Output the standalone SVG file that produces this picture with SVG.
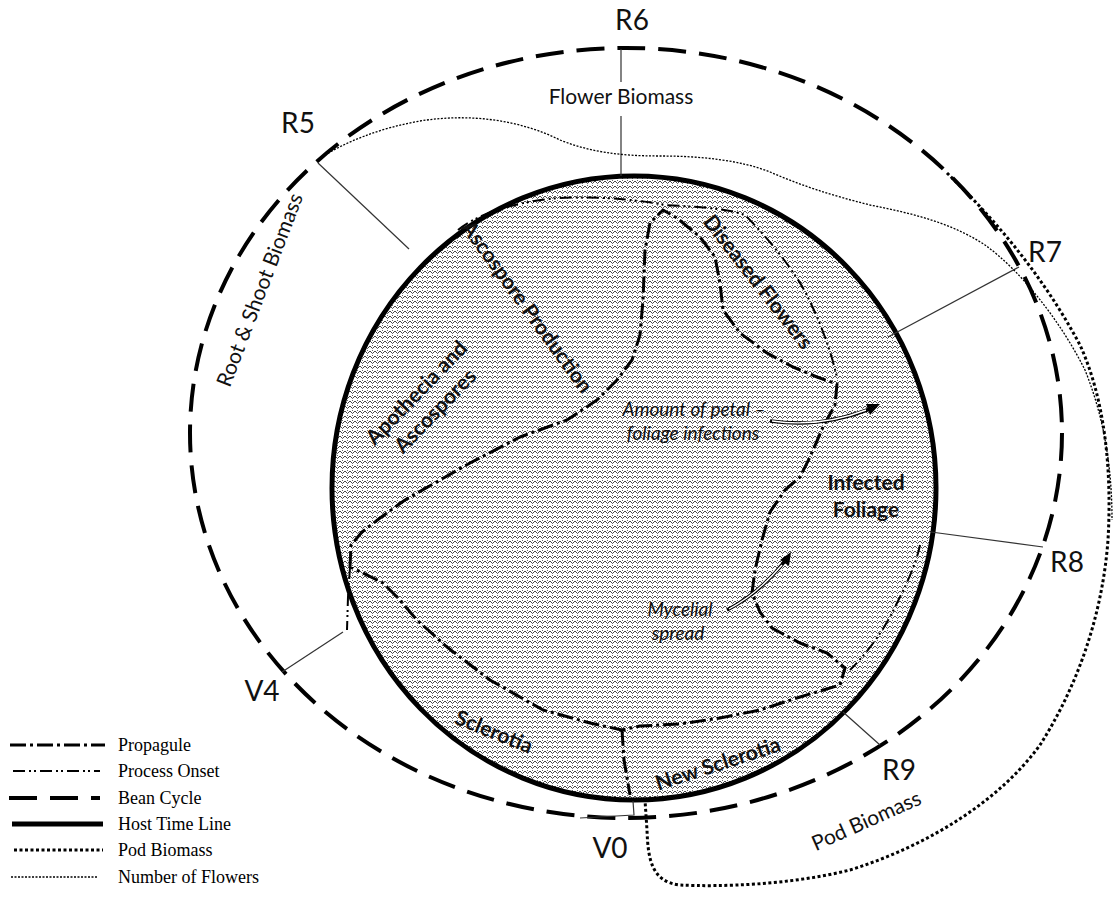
<svg xmlns="http://www.w3.org/2000/svg" width="1114" height="901" viewBox="0 0 1114 901">
  <defs>
    <!-- fine chevron stipple used for the disease-cycle bands -->
    <pattern id="stipple" width="5" height="5" patternUnits="userSpaceOnUse">
      <rect width="5" height="5" fill="#fff"/>
      <path d="M0,1 L2.5,3.5 L5,1" fill="none" stroke="#1a1a1a" stroke-width="0.8"/>
      <rect x="2" y="0" width="1" height="0.8" fill="#444"/>
    </pattern>
  </defs>
  <style>
    .propagule { fill: none; stroke: #000; stroke-width: 3; stroke-dasharray: 16 4 3 4; stroke-linejoin: round; }
    .onset { fill: none; stroke: #000; stroke-width: 2; stroke-dasharray: 12 4 2 3 2 4; }
    .bean { fill: none; stroke: #000; stroke-width: 4; stroke-dasharray: 28 13; }
    .host { stroke: #000; stroke-width: 5; }
    .pod { fill: none; stroke: #000; stroke-width: 3; stroke-dasharray: 3 2.5; }
    .flowers { fill: none; stroke: #000; stroke-width: 1.3; stroke-dasharray: 2 1.5; }
    .tick { fill: none; stroke: #333; stroke-width: 1.2; }
    .stage { font-family: Lato, "Open Sans", sans-serif; font-size: 28px; fill: #111; }
    .biomass { font-family: Lato, "Open Sans", sans-serif; font-size: 21px; fill: #111; }
    .band { font-family: Lato, "Open Sans", sans-serif; font-size: 21px; font-weight: bold; fill: #111; }
    .note { font-family: Lato, "Open Sans", sans-serif; font-size: 19px; font-style: italic; fill: #111; }
    .legend { font-family: "Liberation Serif", "Times New Roman", serif; font-size: 18px; fill: #000; }
    .arrowOuter { fill: none; stroke: #000; stroke-width: 3.5; }
    .arrowInner { fill: none; stroke: #fff; stroke-width: 1.4; }
  </style>

  <!-- host time line with the stippled disease bands -->
  <g id="host-time-line">
    <ellipse cx="634" cy="488" rx="302" ry="312" fill="url(#stipple)"/>
    <path id="healthy-core" fill="#fff" class="propagule"
      d="M350,567 L351,545 L362,532 L380,518 L405,500 L440,480 L470,463 L520,437 L567,420 L597,400 L617,380 L632,360 L640,335 L643,300 L645,250 L650,223 L663,210 L677,218 L700,237 L715,257 L720,283 L723,310 L740,333 L767,353 L793,367 L817,377 L837,384 L835,405 L823,427 L810,457 L800,477 L785,490 L770,512 L762,540 L755,570 L752,593 L760,612 L772,628 L800,643 L827,653 L845,668 L840,685 L800,697 L760,710 L720,718 L680,724 L640,726 L622,730 L590,723 L543,710 L490,680 L447,647 L417,620 L397,597 L383,583 L363,573 Z"/>
    <path class="propagule" d="M622,730 L624,760 L630,795"/>
    <ellipse cx="634" cy="488" rx="302" ry="312" fill="none" class="host"/>
  </g>

  <!-- bean cycle -->
  <g id="bean-cycle">
    <ellipse cx="626" cy="433" rx="436" ry="385" class="bean"/>
  </g>

  <!-- connectors: growth-stage ticks, process onsets, biomass curves, arrows -->
  <g id="connectors">
    <path class="tick" d="M621,49 L621,82 M621,116 L621,176"/>
    <path class="tick" d="M318,163 L409,249"/>
    <path class="tick" d="M1019,267 L888,337"/>
    <path class="tick" d="M1043,547 L931,532"/>
    <path class="tick" d="M880,745 L843,712"/>
    <path class="tick" d="M282,672 L343,632"/>
    <path class="tick" d="M633,801 L634,815 L580,818"/>

    <path class="onset" d="M458,230 C480,212 520,201 560,198 C600,196 640,200 665,205 C700,207 730,209 745,215 C765,235 790,265 803,288 C815,310 830,345 837,378"/>
    <path class="onset" d="M920,545 C916,565 906,585 895,607 C885,628 870,650 850,670"/>
    <path class="onset" d="M350,567 L348,597 L347,630"/>

    <path class="flowers" d="M322,157 C345,142 380,128 420,121 C470,113 520,120 560,140 C590,152 620,156 660,156 C700,156 740,160 770,172 C800,185 830,195 870,205 C910,213 950,222 985,245 C1020,270 1060,320 1085,370 C1105,420 1112,470 1112,520"/>
    <path class="pod" d="M947,173 C990,215 1040,270 1080,345 C1105,400 1112,470 1108,540 C1102,620 1075,690 1040,745 C1000,800 930,845 850,870 C790,885 720,887 680,885 C652,882 648,860 647,830 L645,800"/>

    <!-- arrow: petal to foliage infections -->
    <path class="arrowOuter" d="M770,421 C800,425 830,424 870,409"/>
    <path class="arrowInner" d="M772,421 C800,425 830,424 866,410"/>
    <path d="M880,404 L866,404 L870,415 Z" fill="#000"/>
    <!-- arrow: mycelial spread -->
    <path class="arrowOuter" d="M727,610 C750,598 770,580 785,561"/>
    <path class="arrowInner" d="M729,609 C750,598 768,581 782,565"/>
    <path d="M791,552 L780,560 L789,566 Z" fill="#000"/>
  </g>

  <!-- growth stage labels -->
  <g id="stage-labels">
    <text class="stage" x="632" y="30" text-anchor="middle">R6</text>
    <text class="stage" x="298" y="133" text-anchor="middle">R5</text>
    <text class="stage" x="1045" y="262" text-anchor="middle">R7</text>
    <text class="stage" x="1067" y="572" text-anchor="middle">R8</text>
    <text class="stage" x="899" y="780" text-anchor="middle">R9</text>
    <text class="stage" x="262" y="701" text-anchor="middle">V4</text>
    <text class="stage" x="610" y="858" text-anchor="middle">V0</text>
  </g>

  <!-- biomass labels -->
  <g id="biomass-labels">
    <text class="biomass" x="621" y="104" text-anchor="middle">Flower Biomass</text>
    <text class="biomass" transform="translate(260,290) rotate(-69)" text-anchor="middle" y="7">Root &amp; Shoot Biomass</text>
    <text class="biomass" transform="translate(866,820) rotate(-24)" text-anchor="middle" y="8" font-size="23">Pod Biomass</text>
  </g>

  <!-- disease band labels -->
  <g id="apothecia">
    <g transform="translate(426,402) rotate(-46)">
      <text class="band" x="0" y="-6" text-anchor="middle">Apothecia and</text>
      <text class="band" x="0" y="20" text-anchor="middle">Ascospores</text>
    </g>
  </g>
  <g id="ascospore-production">
    <text class="band" transform="translate(527,307) rotate(54)" text-anchor="middle" y="7">Ascospore Production</text>
  </g>
  <g id="diseased-flowers">
    <text class="band" transform="translate(758,282) rotate(52)" text-anchor="middle" y="7">Diseased Flowers</text>
  </g>
  <g id="infected-foliage">
    <text class="band" x="866" y="490" text-anchor="middle" font-size="20">Infected</text>
    <text class="band" x="866" y="517" text-anchor="middle" font-size="20">Foliage</text>
  </g>
  <g id="sclerotia">
    <text class="band" transform="translate(494,732) rotate(22)" text-anchor="middle" y="7">Sclerotia</text>
  </g>
  <g id="new-sclerotia">
    <text class="band" transform="translate(718,764) rotate(-18)" text-anchor="middle" y="7" font-size="22">New Sclerotia</text>
  </g>
  <g id="petal-infections">
    <text class="note" x="694" y="416" text-anchor="middle">Amount of petal –</text>
    <text class="note" x="693" y="440" text-anchor="middle">foliage infections</text>
  </g>
  <g id="mycelial-spread">
    <text class="note" x="680" y="616" text-anchor="middle">Mycelial</text>
    <text class="note" x="678" y="640" text-anchor="middle">spread</text>
  </g>

  <!-- legend -->
  <g id="legend">
    <line x1="10" y1="745" x2="105" y2="745" class="propagule"/>
    <line x1="13" y1="771" x2="100" y2="771" class="onset"/>
    <line x1="9" y1="798" x2="100" y2="798" class="bean" stroke-dasharray="26 12"/>
    <line x1="12" y1="824" x2="103" y2="824" class="host"/>
    <line x1="14" y1="850" x2="103" y2="850" class="pod"/>
    <line x1="11" y1="877" x2="97" y2="877" class="flowers" stroke-width="2"/>
    <text class="legend" x="118" y="751">Propagule</text>
    <text class="legend" x="118" y="777">Process Onset</text>
    <text class="legend" x="118" y="804">Bean Cycle</text>
    <text class="legend" x="118" y="830">Host Time Line</text>
    <text class="legend" x="118" y="856">Pod Biomass</text>
    <text class="legend" x="118" y="883">Number of Flowers</text>
  </g>
</svg>
